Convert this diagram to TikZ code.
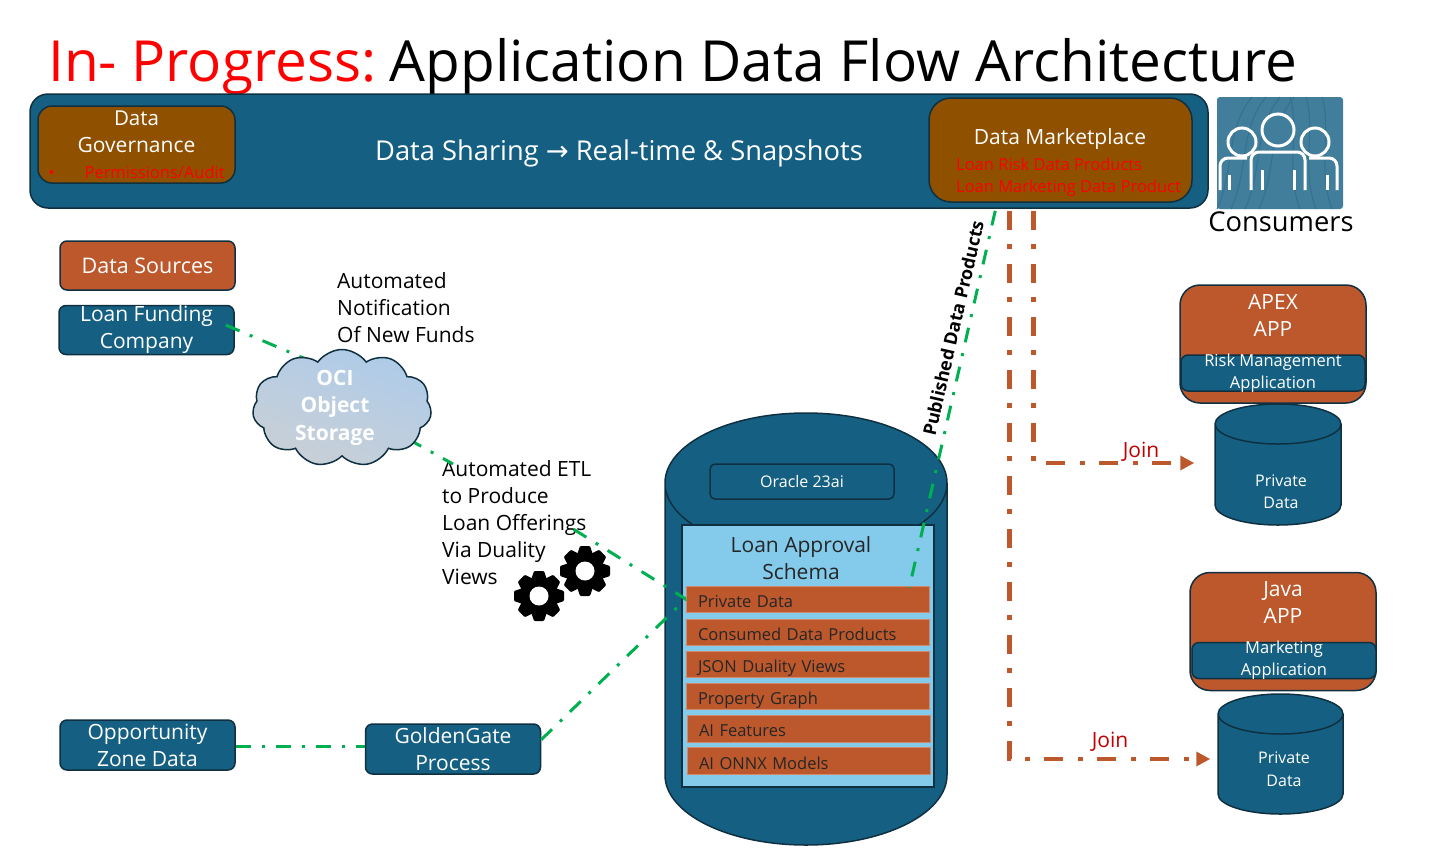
\documentclass[tikz,border=0pt]{standalone}
\usepackage{fontspec}
\setmainfont[Ligatures=NoCommon]{Open Sans}
\newfontfamily\arrowfont{DejaVu Sans}
\usepackage{xcolor}
\definecolor{acc}{HTML}{156082}
\definecolor{rust}{HTML}{BC582C}
\definecolor{umber}{HTML}{8F5000}
\definecolor{sky}{HTML}{83CAEB}
\definecolor{ink}{HTML}{0F3040}
\definecolor{grn}{HTML}{00B050}
\definecolor{iconbg}{HTML}{417E9C}
\definecolor{iconln}{HTML}{35708E}
\definecolor{joinred}{HTML}{C00000}
\definecolor{cloudA}{HTML}{AECBE9}
\definecolor{cloudB}{HTML}{C9D0D6}
\usetikzlibrary{arrows.meta,positioning,calc,shapes.geometric,shapes.symbols}
\newcommand{\fsz}[2]{\fontsize{#1pt}{#2pt}\selectfont}
\newcommand{\gearat}[2]{%
  \foreach \a in {0,45,...,315} \fill[black,rounded corners=1pt,rotate around={\a:(#1,#2)}] (#1-8,#2-16) -- (#1-5,#2-25) -- (#1+5,#2-25) -- (#1+8,#2-16) -- cycle;
  \fill[black] (#1,#2) circle (19pt);
  \fill[white] (#1,#2) circle (9.5pt);
}
\tikzset{
  >={Triangle[length=14pt,width=14pt]},
  box/.style={draw=ink,line width=1.5pt,fill=acc,text=white,rounded corners=7pt,inner xsep=0pt,inner ysep=0pt,align=center,font=\fsz{21}{27}},
  rbox/.style={box,fill=rust},
  ubox/.style={box,fill=umber,rounded corners=14pt},
  appbox/.style={rbox,rounded corners=20pt,minimum width=186pt,minimum height=118pt},
  tagbox/.style={box,font=\fsz{16.5}{22},minimum width=184pt,minimum height=36pt,inner ysep=-3pt},
  dbcyl/.style={cylinder,shape border rotate=90,draw=ink,line width=1.5pt,fill=acc,shape aspect=1,anchor=shape center},
  barbox/.style={fill=rust,draw=rust!70!white,line width=0.5pt,text=black!85,inner xsep=12pt,inner ysep=0pt,text width=219pt,text height=16pt,text depth=0pt,minimum height=27pt,font=\fsz{16.5}{21},align=left},
  lab/.style={inner sep=0pt,align=left,font=\fsz{21}{27}},
  wlab/.style={inner sep=0pt,align=center,text=white,font=\fsz{16}{22.5}},
  rlab/.style={inner sep=0pt,align=left,text=red,font=\fsz{16.5}{22}},
  jlab/.style={inner sep=0pt,text=joinred,font=\fsz{21}{25}},
  glink/.style={draw=grn,line width=3pt,dash pattern=on 15pt off 11pt on 3pt off 11pt},
  olink/.style={->,draw=rust,line width=4.5pt,dash pattern=on 19pt off 14.5pt on 5pt off 14.5pt},
}
\begin{document}
\begin{tikzpicture}[x=1pt,y=-1pt]
\useasboundingbox (0,0) rectangle (1430,852);
\node[inner sep=0pt,anchor=west,font=\fsz{56.7}{64}] (title) at (48,67) {\textcolor{red}{In- Progress:}\hspace{-6pt} Application Data Flow Architecture};
% top band
\node[box,rounded corners=18pt,minimum width=1178pt,minimum height=114pt] (band) at (619,151) {};
\node[inner sep=0pt,text=white,font=\fsz{27.3}{32}] (share) at (619,153) {Data Sharing {\arrowfont→} Real-time \& Snapshots};
\node[ubox,minimum width=197pt,minimum height=77pt] (gov) at (136.5,144.5) {\fsz{20.5}{26}Data\\Governance\\[-1pt]{\fsz{16.5}{20}\color{red}•\hspace{30pt}Permissions/Audit}};
\node[ubox,rounded corners=22pt,minimum width=263pt,minimum height=104pt] (mkt) at (1060.5,150) {};
\node[wlab,font=\fsz{21}{27}] (mkttxt) at (1060,139.5) {Data Marketplace};
\node[rlab,anchor=north west] (mktred) at (956,158) {Loan Risk Data Products\\Loan Marketing Data Product};
% consumers
\node[fill=iconbg,rounded corners=3pt,minimum width=126pt,minimum height=112pt,inner sep=0pt] (crowd) at (1280,153) {};
\foreach \k in {0,14,28,42} \draw[iconln,line width=1pt] (1217+\k,209) .. controls (1235+\k,170) and (1225+\k,130) .. (1252+\k,97);
\foreach \k in {0,16,32} \draw[iconln,line width=1pt] (1290+\k,97) .. controls (1300+\k,130) and (1285+\k,170) .. (1300+\k,209);
\draw[white,line width=3pt] (1242,142) circle (14pt) (1315,142) circle (14pt);
\draw[white,line width=3pt,fill=iconbg] (1278,130) circle (16pt);
\draw[white,line width=3pt,rounded corners=8pt] (1220,190) -- (1220,158) -- (1247,158) (1337,190) -- (1337,158) -- (1309,158) (1251,190) -- (1251,152) -- (1305,152) -- (1305,190);
\draw[white,line width=3pt] (1229,175) -- (1229,190) (1262,170) -- (1262,190) (1294,170) -- (1294,190) (1327,175) -- (1327,190);
\node[inner sep=0pt,font=\fsz{27.3}{32}] (crowdtxt) at (1281,222) {Consumers};
% sources
\node[rbox,font=\fsz{21.5}{27},minimum width=175pt,minimum height=49pt] (src) at (147.5,265.5) {Data Sources};
\node[box,below=14pt of src,xshift=-1pt,minimum width=175pt,minimum height=49pt] (fund) {Loan Funding\\Company};
\node[lab,anchor=north west] (notify) at (337,272) {Automated\\Notification\\Of New Funds};
\node[lab,anchor=north west] (etl) at (442,460) {Automated ETL\\to Produce\\Loan Offerings\\Via Duality\\Views};
\node[box,minimum width=175pt,minimum height=50pt] (opp) at (147.5,745) {Opportunity\\Zone Data};
\node[box,minimum width=175pt,minimum height=50pt] (gg) at (453,749) {GoldenGate\\Process};
% database
\node[dbcyl,minimum width=282pt,minimum height=432pt,inner sep=70pt] (db) at (806,629) {};
\node[box,font=\fsz{16}{21},rounded corners=5pt,minimum width=184pt,minimum height=35pt] (ora) at (802,481.5) {Oracle 23ai};
\node[draw=ink,line width=2pt,fill=sky,minimum width=252pt,minimum height=262pt,inner sep=0pt] (schema) at (808,656) {};
\node[inner sep=0pt,align=center,text=black!85,font=\fsz{21}{27}] (schematxt) at (801,558) {Loan Approval\\Schema};
\node[barbox,minimum height=26pt] (priv) at (807.5,599) {Private Data};
\node[barbox,below=6.5pt of priv,minimum height=26pt] (used) {Consumed Data Products};
\node[barbox,below=6pt of used,minimum height=26pt] (json) {JSON Duality Views};
\node[barbox,below=5.5pt of json,minimum height=26pt] (graph) {Property Graph};
\node[barbox,below=5pt of graph,xshift=1pt] (feat) {AI Features};
\node[barbox,below=5pt of feat] (onnx) {AI ONNX Models};
% apps
\node[appbox] (apex) at (1273,344) {};
\node[wlab,font=\fsz{21}{27},below=10pt of apex.north] (apextxt) {APEX\\APP};
\node[tagbox] (risk) at (1273,373) {Risk Management\\Application};
\node[dbcyl,minimum width=126pt,minimum height=121pt,inner sep=20pt] (pd1) at (1278,464.5) {};
\node[wlab] (pd1txt) at (1281,491.5) {Private\\Data};
\node[appbox] (java) at (1283,631.5) {};
\node[wlab,font=\fsz{21}{27},below=10pt of java.north] (javatxt) {Java\\APP};
\node[tagbox] (mktg) at (1284,660.5) {Marketing\\Application};
\node[dbcyl,minimum width=125pt,minimum height=120pt,inner sep=20pt] (pd2) at (1280.5,754) {};
\node[wlab] (pd2txt) at (1284,769) {Private\\Data};
% links
\draw[glink] ($(fund.east)+(-9,-5)$) -- (308,360);
\draw[glink] ($(opp.east)+(0,1)$) -- ($(opp.east -| gg.west)+(0,1)$);
\draw[glink] (gg.6) -- (priv.west);
\draw[glink] ($(etl.north west)+(-34,-21)$) -- ($(etl.north west)+(11,4)$);
\draw[glink] ($(etl.east)+(-18,7)$) -- (priv.west);
\node[cloud,cloud puffs=11,cloud puff arc=110,aspect=1.5,draw=ink,line width=1.5pt,left color=cloudA,right color=cloudB,shading angle=-20,minimum width=179pt,minimum height=117pt,inner sep=0pt] (store) at (342,408) {};
\node[inner sep=0pt,align=center,text=white,font=\bfseries\fsz{21}{27.5}] (storetxt) at (335,407.5) {OCI\\Object\\Storage};
\draw[glink] ($(mkt.south west)+(67,8)$) -- node[pos=0.32,sloped,above=6.5pt,inner sep=0pt,text=black,font=\bfseries\fsz{18}{20}] (pubtxt) {Published Data Products} ($(priv.north east)+(-20,2)$);
\draw[olink,shorten >=7pt] ($(mkt.south)+(-51,8)$) |- ($(pd2.shape center -| pd2.west)+(0,5)$);
\draw[olink,shorten >=20pt] ($(mkt.south)+(-27,8)$) |- ($(pd1.shape center -| pd1.west)+(0,-1.5)$);
\node[jlab] (join1) at (1141,452) {Join};
\node[jlab] (join2) at (1110,742) {Join};
% gears
\gearat{539}{596}
\gearat{585}{571}
\end{tikzpicture}
\end{document}
